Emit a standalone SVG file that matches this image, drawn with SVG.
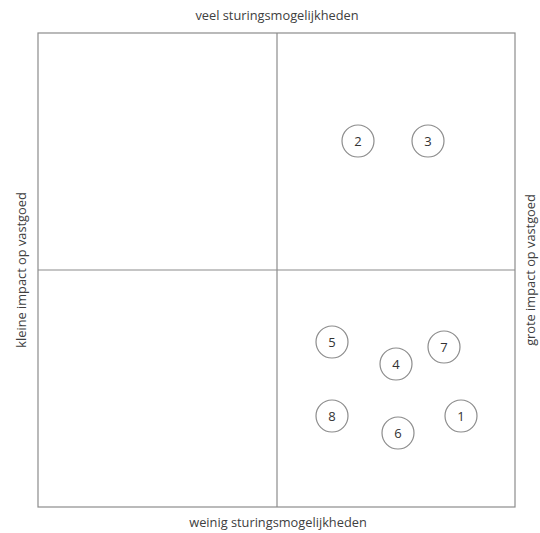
<svg xmlns="http://www.w3.org/2000/svg" width="540" height="533" viewBox="0 0 540 533">
<style>
.ax{fill:none;stroke:#8c8c8c;stroke-width:1.2}
.lbl{font-family:"Open Sans","Liberation Sans",sans-serif;font-size:12.8px;fill:#404040;text-anchor:middle}
.c{fill:#fff;stroke:#8c8c8c;stroke-width:1.2}
.n{font-family:"Open Sans","Liberation Sans",sans-serif;font-size:13px;fill:#333;text-anchor:middle;dominant-baseline:central}
</style>
<rect width="540" height="533" fill="#fff"/>
<g id="connectors">
<rect class="ax" x="38" y="33" width="477" height="474"/>
<line class="ax" x1="277" y1="33" x2="277" y2="507"/>
<line class="ax" x1="38" y1="270" x2="515" y2="270"/>
</g>
<text class="lbl" x="277" y="20">veel sturingsmogelijkheden</text>
<text class="lbl" x="278" y="527">weinig sturingsmogelijkheden</text>
<text class="lbl" transform="translate(26 270) rotate(-90)">kleine impact op vastgoed</text>
<text class="lbl" transform="translate(535 270) rotate(-90)">grote impact op vastgoed</text>
<g id="n2"><circle class="c" cx="358" cy="141" r="16"/><text class="n" x="358" y="141">2</text></g>
<g id="n3"><circle class="c" cx="428" cy="141" r="16"/><text class="n" x="428" y="141">3</text></g>
<g id="n5"><circle class="c" cx="332" cy="342" r="16"/><text class="n" x="332" y="342">5</text></g>
<g id="n4"><circle class="c" cx="396" cy="364" r="16"/><text class="n" x="396" y="364">4</text></g>
<g id="n7"><circle class="c" cx="444" cy="347" r="16"/><text class="n" x="444" y="347">7</text></g>
<g id="n8"><circle class="c" cx="332" cy="416" r="16"/><text class="n" x="332" y="416">8</text></g>
<g id="n6"><circle class="c" cx="398" cy="433" r="16"/><text class="n" x="398" y="433">6</text></g>
<g id="n1"><circle class="c" cx="461" cy="416" r="16"/><text class="n" x="461" y="416">1</text></g>
</svg>
